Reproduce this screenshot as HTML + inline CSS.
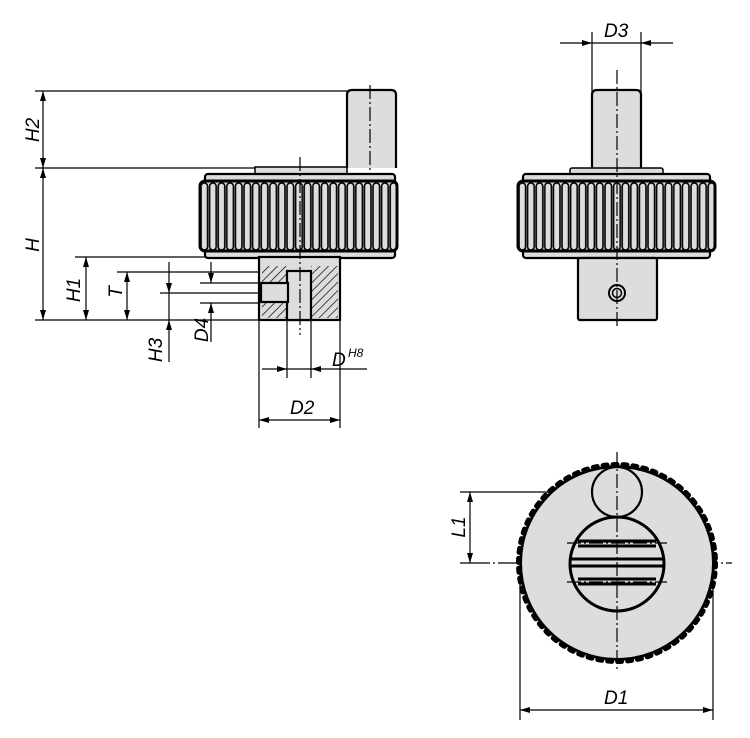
<!DOCTYPE html>
<html><head><meta charset="utf-8"><style>html,body{margin:0;padding:0;background:#fff}svg{display:block}text{font-family:"Liberation Sans",sans-serif;font-style:italic;font-size:19px;fill:#000}</style></head><body>
<svg width="750" height="738" viewBox="0 0 750 738" xmlns="http://www.w3.org/2000/svg">
<defs>
<pattern id="kn" x="200" y="0" width="8.6" height="300" patternUnits="userSpaceOnUse"><rect x="1" y="183" width="6.6" height="67" rx="3.3" fill="#ddd" stroke="#000" stroke-width="1.6"/></pattern>
<pattern id="kn2" x="518" y="0" width="8.6" height="300" patternUnits="userSpaceOnUse"><rect x="1" y="183" width="6.6" height="67" rx="3.3" fill="#ddd" stroke="#000" stroke-width="1.6"/></pattern>
<pattern id="hat" width="6" height="6" patternUnits="userSpaceOnUse" patternTransform="rotate(45)"><line x1="0" y1="0" x2="0" y2="6" stroke="#000" stroke-width="1.4"/></pattern>
<marker id="a" viewBox="0 0 10 10" refX="10" refY="5" markerWidth="10" markerHeight="10" orient="auto-start-reverse" markerUnits="userSpaceOnUse"><path d="M0,2 L10,5 L0,8z" fill="#000"/></marker>
</defs>
<g stroke="#000" fill="none" stroke-width="1.2">
<line x1="35" y1="91" x2="355" y2="91"/><line x1="35" y1="168" x2="255" y2="168"/>
<line x1="75" y1="257" x2="259" y2="257"/><line x1="117" y1="272" x2="259" y2="272"/>
<line x1="35" y1="320" x2="259" y2="320"/>
<line x1="160" y1="293" x2="262" y2="293"/><line x1="200" y1="283" x2="262" y2="283"/><line x1="200" y1="303" x2="262" y2="303"/>
<line x1="43" y1="91" x2="43" y2="168" marker-start="url(#a)" marker-end="url(#a)"/>
<line x1="43" y1="168" x2="43" y2="320" marker-start="url(#a)" marker-end="url(#a)"/>
<line x1="86" y1="257" x2="86" y2="320" marker-start="url(#a)" marker-end="url(#a)"/>
<line x1="127" y1="272" x2="127" y2="320" marker-start="url(#a)" marker-end="url(#a)"/>
<line x1="169" y1="262" x2="169" y2="293" marker-end="url(#a)"/><line x1="169" y1="362" x2="169" y2="320" marker-end="url(#a)"/><line x1="169" y1="293" x2="169" y2="320"/>
<line x1="211" y1="262" x2="211" y2="283" marker-end="url(#a)"/><line x1="211" y1="342" x2="211" y2="303" marker-end="url(#a)"/>
<path d="M347,168 V95 Q347,90 352,90 H391 Q396,90 396,95 V168" fill="#ddd" stroke-width="2.2"/>
<line x1="370" y1="85" x2="370" y2="175" stroke-dasharray="14 3 2 3"/>
<rect x="255" y="167" width="92" height="7" fill="#ddd" stroke-width="1.5"/>
<rect x="205" y="174" width="190" height="84" rx="3" fill="#ddd" stroke-width="2.2"/>
<rect x="200" y="181" width="197" height="70" rx="5" fill="url(#kn)" stroke-width="3"/>
<line x1="205" y1="181" x2="395" y2="181" stroke-width="2"/><line x1="205" y1="251" x2="395" y2="251" stroke-width="2"/>
<rect x="259" y="257" width="81" height="63" fill="#ddd" stroke-width="2.2"/>
<rect x="262" y="266" width="25" height="52" fill="url(#hat)" stroke="none"/>
<rect x="311" y="266" width="27" height="52" fill="url(#hat)" stroke="none"/>
<rect x="287" y="271" width="24" height="49" fill="#ddd" stroke-width="2.2"/>
<rect x="261" y="283" width="27" height="19" fill="#ddd" stroke-width="2.2"/>
<line x1="300" y1="157" x2="300" y2="335" stroke-dasharray="14 3 2 3"/>
<line x1="287" y1="320" x2="287" y2="378"/><line x1="311" y1="320" x2="311" y2="378"/>
<line x1="259" y1="320" x2="259" y2="428"/><line x1="340" y1="320" x2="340" y2="428"/>
<line x1="262" y1="369" x2="287" y2="369" marker-end="url(#a)"/><line x1="367" y1="369" x2="311" y2="369" marker-end="url(#a)"/><line x1="287" y1="369" x2="311" y2="369"/>
<line x1="259" y1="420" x2="340" y2="420" marker-start="url(#a)" marker-end="url(#a)"/>
<!-- RIGHT VIEW -->
<line x1="592" y1="32" x2="592" y2="95"/><line x1="641" y1="32" x2="641" y2="95"/>
<line x1="560" y1="43" x2="592" y2="43" marker-end="url(#a)"/><line x1="673" y1="43" x2="641" y2="43" marker-end="url(#a)"/><line x1="592" y1="43" x2="641" y2="43"/>
<path d="M592,168 V95 Q592,90 597,90 H636 Q641,90 641,95 V168" fill="#ddd" stroke-width="2.2"/>
<rect x="570" y="168" width="93" height="7" rx="2" fill="#ddd" stroke-width="1.5"/>
<rect x="523" y="174" width="187" height="84" rx="3" fill="#ddd" stroke-width="2.2"/>
<rect x="518" y="181" width="197" height="70" rx="5" fill="url(#kn2)" stroke-width="3"/>
<line x1="523" y1="181" x2="710" y2="181" stroke-width="2"/><line x1="523" y1="251" x2="710" y2="251" stroke-width="2"/>
<rect x="578" y="258" width="79" height="62" rx="2" fill="#ddd" stroke-width="2.2"/>
<circle cx="617" cy="293" r="8" fill="#ddd" stroke-width="2"/><circle cx="617" cy="293" r="4.5" stroke-width="1.5"/>
<line x1="617" y1="70" x2="617" y2="328" stroke-dasharray="14 3 2 3"/>
<!-- BOTTOM VIEW -->
<line x1="460" y1="492" x2="617" y2="492"/><line x1="460" y1="563" x2="732" y2="563" stroke-dasharray="30 3 2 3"/>
<line x1="470" y1="492" x2="470" y2="563" marker-start="url(#a)" marker-end="url(#a)"/>
<circle cx="617" cy="563" r="96" fill="#ddd" stroke-width="2"/>
<circle cx="617" cy="563" r="98.5" stroke-width="5" stroke-dasharray="4 6" stroke-linecap="round"/>
<circle cx="617" cy="563" r="97" stroke-width="1.5"/>
<circle cx="617" cy="492" r="25" fill="#ddd" stroke-width="2.2"/>
<circle cx="617" cy="564" r="47" fill="#ddd" stroke-width="3"/>
<g stroke-width="3"><line x1="578" y1="541" x2="656" y2="541"/><line x1="578" y1="546" x2="656" y2="546"/><line x1="571" y1="559" x2="663" y2="559"/><line x1="571" y1="566" x2="663" y2="566"/><line x1="578" y1="579" x2="656" y2="579"/><line x1="578" y1="584" x2="656" y2="584"/></g>
<line x1="567" y1="543" x2="667" y2="543" stroke-dasharray="14 3 2 3"/><line x1="567" y1="582" x2="667" y2="582" stroke-dasharray="14 3 2 3"/>
<line x1="617" y1="452" x2="617" y2="670" stroke-dasharray="14 3 2 3"/>
<line x1="520" y1="563" x2="520" y2="720"/><line x1="713" y1="563" x2="713" y2="720"/>
<line x1="520" y1="710" x2="713" y2="710" marker-start="url(#a)" marker-end="url(#a)"/>
</g>
<text x="604" y="37">D3</text>
<text transform="translate(39,130) rotate(-90)" text-anchor="middle">H2</text>
<text transform="translate(39,245) rotate(-90)" text-anchor="middle">H</text>
<text transform="translate(80,290) rotate(-90)" text-anchor="middle">H1</text>
<text transform="translate(122,292) rotate(-90)" text-anchor="middle">T</text>
<text transform="translate(162,350) rotate(-90)" text-anchor="middle">H3</text>
<text transform="translate(208,330) rotate(-90)" text-anchor="middle">D4</text>
<text x="332" y="366">D</text><text x="348" y="357" style="font-size:12px">H8</text>
<text x="290" y="414">D2</text>
<text transform="translate(465,527) rotate(-90)" text-anchor="middle">L1</text>
<text x="604" y="704">D1</text>
</svg>
</body></html>
